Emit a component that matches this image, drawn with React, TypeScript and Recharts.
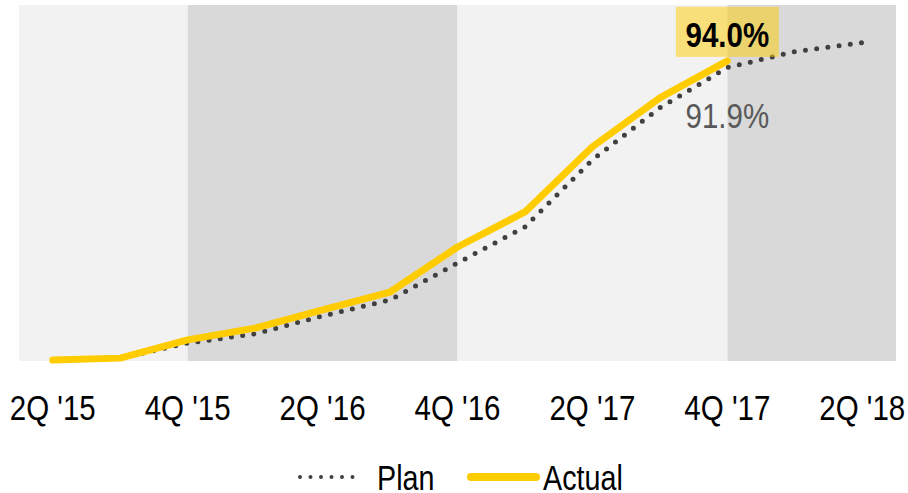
import React from 'react';
import { LineChart, Line, XAxis, YAxis, ReferenceArea, Legend, LabelList } from 'recharts';

const categories = ["2Q '15", "3Q '15", "4Q '15", "1Q '16", "2Q '16", "3Q '16", "4Q '16", "1Q '17", "2Q '17", "3Q '17", "4Q '17", "1Q '18", "2Q '18"];
const planValues = [0.3, 0.9, 5.6, 8.5, 14.1, 19.1, 30.7, 42.0, 63.0, 79.3, 91.9, 96.9, 99.7];
const actualValues: (number | null)[] = [0.3, 0.9, 6.6, 10.3, 16.0, 21.6, 35.7, 46.7, 67.1, 82.4, 94.0, null, null];
const labelCategory = "4Q '17";
const legendOrder = ['plan', 'actual'];

const FONT = "'Liberation Sans', Arial, sans-serif";
const NARROW = 0.82;
const LIGHT = '#F2F2F2';
const DARK = '#D9D9D9';
const YELLOW = '#FFCC00';
const PLAN_COLOR = '#404040';

const data = categories.map((cat, i) => ({ idx: i, cat, plan: planValues[i], actual: actualValues[i] }));
const labelIndex = categories.indexOf(labelCategory);
const tickIdx = categories.map((_, i) => i).filter((i) => i % 2 === 0);
const yearEnds = categories.map((c, i) => (c.startsWith('4Q') ? i : -1)).filter((i) => i >= 0);
const edges = [-0.5, ...yearEnds, categories.length - 0.5];
const bands = edges.slice(0, -1).map((e, i) => ({ x1: e, x2: edges[i + 1], fill: i % 2 === 0 ? LIGHT : DARK }));

const fmt = (v: number) => `${v.toFixed(1)}%`;

const NarrowText = ({ x, y, children, ...rest }: any) => (
  <text transform={`translate(${x},${y}) scale(${NARROW},1)`} x={0} y={0} fontFamily={FONT} {...rest}>
    {children}
  </text>
);

const Tick = (props: any) => {
  const { x, y, payload } = props;
  return (
    <NarrowText x={x} y={y} textAnchor="middle" dy="0.71em" fontSize={36} fill="#000">
      {categories[payload.value]}
    </NarrowText>
  );
};

const ActualLabel = (props: any) => {
  const { x, y, value, index } = props;
  if (index !== labelIndex || value == null) return null;
  const w = 103;
  const h = 50;
  return (
    <g>
      <rect x={x - w / 2} y={y - 54} width={w} height={h} fill={YELLOW} fillOpacity={0.5} />
      <NarrowText x={x} y={y - 14} textAnchor="middle" fontSize={36} fontWeight="bold" fill="#000">
        {fmt(value)}
      </NarrowText>
    </g>
  );
};

const PlanLabel = (props: any) => {
  const { x, y, value, index } = props;
  if (index !== labelIndex || value == null) return null;
  return (
    <NarrowText x={x} y={y + 60} textAnchor="middle" fontSize={36} fill="#595959">
      {fmt(value)}
    </NarrowText>
  );
};

const LegendContent = (props: any) => {
  const payload = [...(props.payload || [])].sort(
    (a: any, b: any) => legendOrder.indexOf(a.dataKey) - legendOrder.indexOf(b.dataKey)
  );
  const widths: Record<string, number> = { plan: 60, actual: 76 };
  const items: any[] = [];
  let cursor = 300;
  payload.forEach((p: any) => {
    const isPlan = p.dataKey === 'plan';
    const lineStart = cursor;
    const lineEnd = cursor + (isPlan ? 63 : 73);
    const textX = lineEnd + (isPlan ? 14 : 3);
    items.push(
      <g key={p.dataKey}>
        {isPlan ? (
          <line x1={lineStart} y1={56} x2={lineEnd} y2={56} stroke={PLAN_COLOR} strokeWidth={4} strokeLinecap="round" strokeDasharray="0 10.5" />
        ) : (
          <line x1={lineStart + 4} y1={56} x2={lineEnd - 4} y2={56} stroke={YELLOW} strokeWidth={8} strokeLinecap="round" />
        )}
        <NarrowText x={textX} y={69} fontSize={35} fill="#000">
          {p.value}
        </NarrowText>
      </g>
    );
    cursor = textX + widths[p.dataKey] + 30;
  });
  return (
    <svg width={908} height={72} style={{ display: 'block' }}>
      {items}
    </svg>
  );
};

export default function App() {
  return (
    <div>
      <style>{`body{margin:0;}`}</style>
      <LineChart width={908} height={493} data={data} margin={{ top: 5, right: 12, bottom: 0, left: 19 }}>
        {bands.map((b, i) => (
          <ReferenceArea key={i} x1={b.x1} x2={b.x2} fill={b.fill} fillOpacity={1} stroke="none" ifOverflow="visible" />
        ))}
        <XAxis
          type="number"
          dataKey="idx"
          domain={[-0.5, categories.length - 0.5]}
          ticks={tickIdx}
          axisLine={false}
          tickLine={false}
          tickSize={0}
          tickMargin={33}
          height={60}
          interval={0}
          tick={<Tick />}
        />
        <YAxis hide domain={[0, 111.5]} />
        <Legend verticalAlign="bottom" content={<LegendContent />} wrapperStyle={{ height: 72, width: 908, left: 0 }} />
        <Line
          dataKey="plan"
          name="Plan"
          stroke={PLAN_COLOR}
          strokeWidth={5}
          strokeDasharray="0 11.3"
          strokeLinecap="round"
          dot={false}
          activeDot={false}
          isAnimationActive={false}
        >
          <LabelList dataKey="plan" content={<PlanLabel />} />
        </Line>
        <Line
          dataKey="actual"
          name="Actual"
          stroke={YELLOW}
          strokeWidth={7}
          strokeLinecap="round"
          strokeLinejoin="round"
          dot={false}
          activeDot={false}
          isAnimationActive={false}
        >
          <LabelList dataKey="actual" content={<ActualLabel />} />
        </Line>
      </LineChart>
    </div>
  );
}
